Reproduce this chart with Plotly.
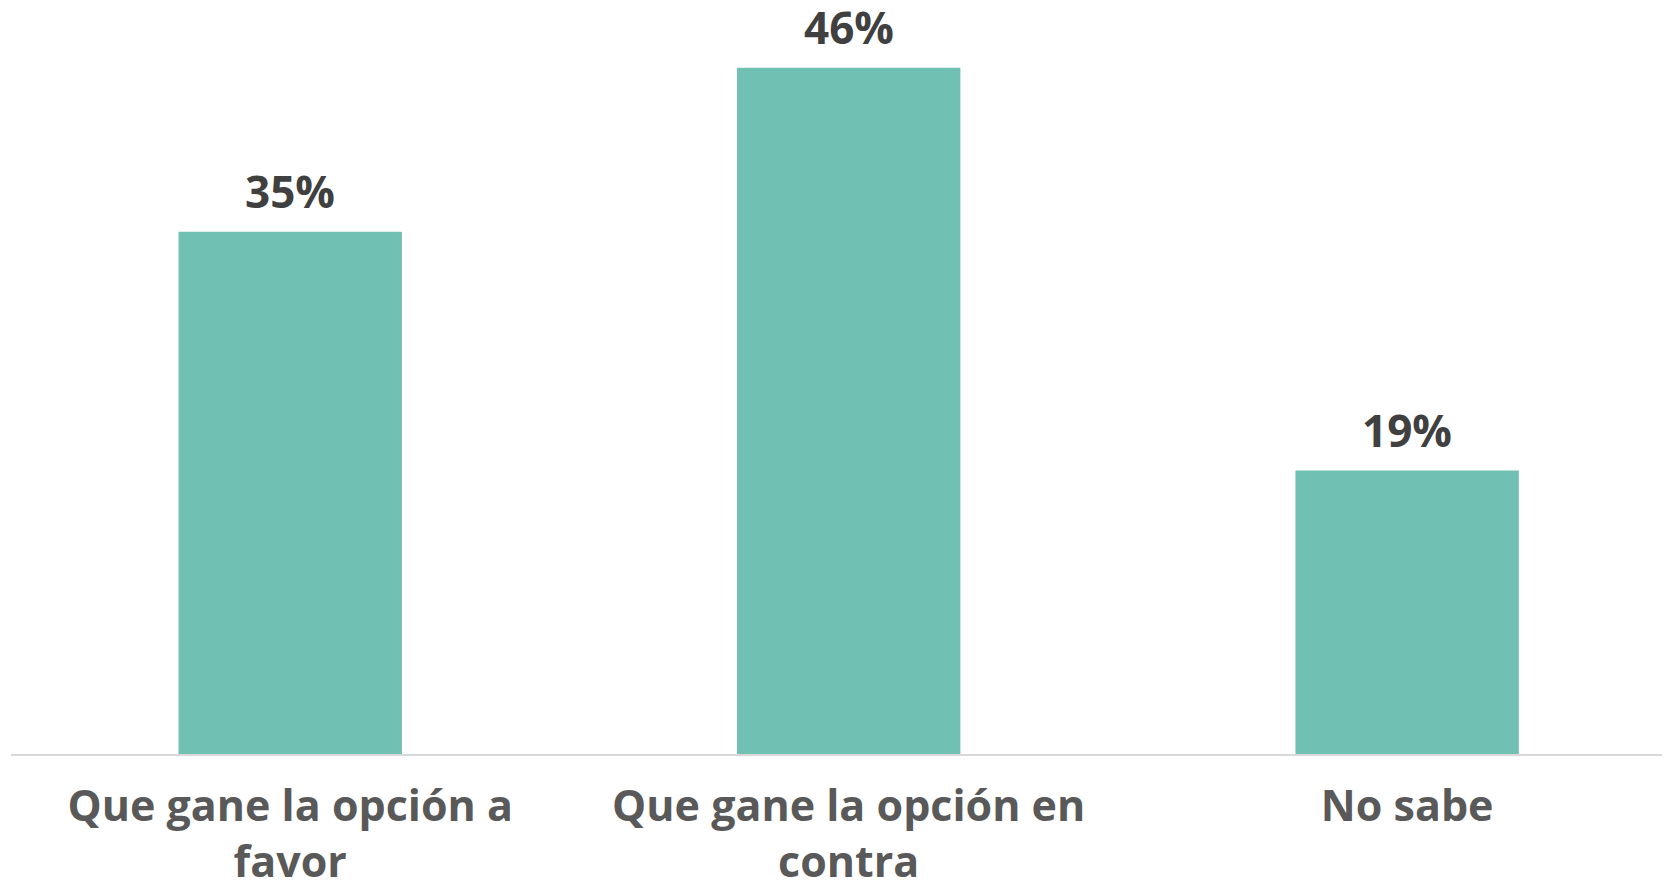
import plotly.graph_objects as go

categories = ["Que gane la opción a<br>favor", "Que gane la opción en<br>contra", "No sabe"]
values = [35, 46, 19]
value_labels = ["35%", "46%", "19%"]

BAR_COLOR = "#70C1B3"
FONT = "Open Sans"

fig = go.Figure()
fig.add_trace(go.Bar(
    x=categories,
    y=values,
    marker=dict(color=BAR_COLOR, line=dict(width=0)),
    hoverinfo="skip",
    cliponaxis=False,
))

for c, v, t in zip(categories, values, value_labels):
    fig.add_annotation(
        x=c, y=v, text=t, showarrow=False,
        yanchor="bottom", yshift=9,
        font=dict(family=FONT, size=44, color="#404040", weight="bold"),
    )

fig.update_layout(
    width=1670, height=880,
    margin=dict(l=3, r=0, t=0, b=134, autoexpand=False),
    paper_bgcolor="white", plot_bgcolor="white",
    bargap=0.6,
    showlegend=False,
    xaxis=dict(
        range=[-0.5, 2.485],
        automargin=False,
        showgrid=False, zeroline=False,
        showline=True, linecolor="#d9d9d9", linewidth=2,
        ticks="", ticklabelstandoff=13,
        tickfont=dict(family=FONT, size=43, color="#595959", weight="bold"),
    ),
    yaxis=dict(
        range=[0, 50.0],
        automargin=False,
        showgrid=False, zeroline=False, showline=False,
        showticklabels=False, ticks="",
    ),
)

fig.write_html("out.html")
